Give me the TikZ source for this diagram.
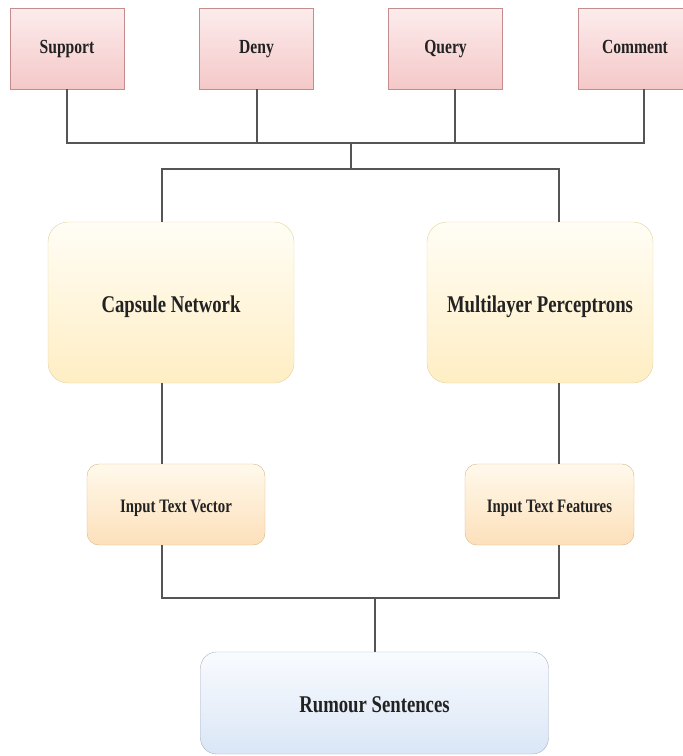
\documentclass[tikz,border=0pt]{standalone}
\usepackage{fontspec}
\setmainfont{Liberation Serif}[FakeStretch=0.78]
\usetikzlibrary{positioning}
\definecolor{stanceedge}{RGB}{196,140,140}
\definecolor{stancetop}{RGB}{252,236,236}
\definecolor{stancebot}{RGB}{245,200,200}
\definecolor{modeledge}{RGB}{226,212,160}
\definecolor{modeltop}{RGB}{255,253,245}
\definecolor{modelbot}{RGB}{255,238,196}
\definecolor{inputedge}{RGB}{214,184,130}
\definecolor{inputtop}{RGB}{255,249,236}
\definecolor{inputbot}{RGB}{253,224,186}
\definecolor{rumouredge}{RGB}{168,178,194}
\definecolor{rumourtop}{RGB}{249,251,254}
\definecolor{rumourbot}{RGB}{218,230,246}
\definecolor{linkgray}{RGB}{85,85,85}
\definecolor{textgray}{RGB}{34,34,34}

\begin{document}
\begin{tikzpicture}[
    x=1pt, y=-1pt,
    % Styles
    stance/.style={
        draw=stanceedge, top color=stancetop, bottom color=stancebot,
        minimum width=114pt, minimum height=81pt,
        text height=10.5pt, text depth=1.5pt,
        font=\bfseries\fontsize{20}{22}\selectfont, text=textgray
    },
    model/.style={
        draw=modeledge, top color=modeltop, bottom color=modelbot,
        rounded corners=20pt, minimum height=161pt,
        text height=19pt, text depth=0pt,
        font=\bfseries\fontsize{24}{26}\selectfont, text=textgray
    },
    inbox/.style={
        draw=inputedge, top color=inputtop, bottom color=inputbot,
        rounded corners=12pt, minimum height=81pt,
        text height=15pt, text depth=0pt,
        font=\bfseries\fontsize{19}{21}\selectfont, text=textgray
    },
    source/.style={
        draw=rumouredge, top color=rumourtop, bottom color=rumourbot,
        rounded corners=16pt, minimum width=348pt, minimum height=102pt,
        text height=19pt, text depth=0pt,
        font=\bfseries\fontsize{24}{26}\selectfont, text=textgray
    },
    link/.style={
        draw=linkgray, line width=1.2pt
    }
]
\useasboundingbox (0,0) rectangle (683,756);

% Stance classes
\node[stance] (support) at (67,48.5) {Support};
\node[stance] (deny) at (256.5,48.5) {Deny};
\node[stance] (query) at (445.5,48.5) {Query};
\node[stance] (comment) at (635,48.5) {Comment};

% Models
\node[model, minimum width=246pt] (capsule) at (171,302.5) {Capsule Network};
\node[model, minimum width=226pt] (mlp) at (540,302.5) {Multilayer Perceptrons};

% Inputs
\node[inbox, minimum width=178pt] (vector) at (176,504.5) {Input Text Vector};
\node[inbox, minimum width=169pt] (features) at (549.5,504.5) {Input Text Features};

% Source
\node[source] (rumour) at (374.5,703) {Rumour Sentences};

% Bus points
\coordinate (topbus) at (351,143);
\coordinate (splitL) at (162,169);
\coordinate (splitR) at (559,169);
\coordinate (joinL) at (162,598);
\coordinate (joinR) at (559,598);
\coordinate (joinC) at (375,598);

% Connectors from the stance boxes
\draw[link] (support.south) |- (topbus);
\draw[link] (comment.south -| 644,0) |- (topbus);
\draw[link] (deny.south -| 257,0) -- (257,143);
\draw[link] (query.south -| 455,0) -- (455,143);
\draw[link] (topbus) -- (topbus |- splitL);
\draw[link] (capsule.north -| splitL) -- (splitL) -- (splitR) -- (mlp.north -| splitR);

% Model to input
\draw[link] (capsule.south -| splitL) -- (vector.north -| splitL);
\draw[link] (mlp.south -| splitR) -- (features.north -| splitR);

% Inputs to source
\draw[link] (vector.south -| joinL) -- (joinL) -- (joinR) -- (features.south -| joinR);
\draw[link] (joinC) -- (rumour.north -| joinC);

\end{tikzpicture}
\end{document}
